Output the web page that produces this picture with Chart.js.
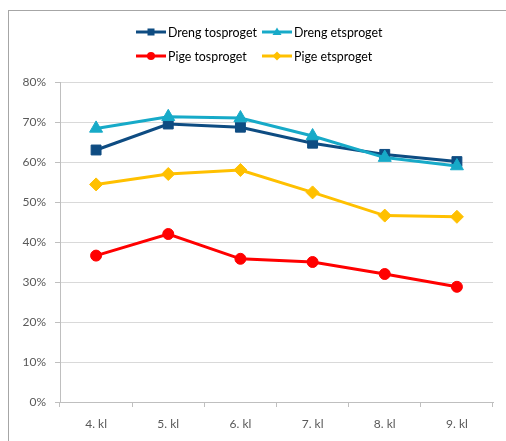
<!doctype html>
<html lang="da">
<head>
<meta charset="UTF-8" />
<title>Dreng og pige, tosproget og etsproget</title>
<style>
html,body{margin:0;padding:0;overflow:hidden;background:#fff}
body{font-family:Lato,"Open Sans",sans-serif}
#frame{position:absolute;left:8px;top:10px;width:540px;height:480px;border:1px solid #a6a6a6;box-sizing:border-box}
#wrap{position:absolute;left:0;top:0;width:506px;height:441px}
#legend{position:absolute;left:136px;top:20px;display:grid;grid-template-columns:126px 126px;grid-auto-rows:24px;font-size:12.4px;color:#000}
.item{display:flex;align-items:center;white-space:nowrap}
.item svg{margin-right:2px;flex:none}
</style>
</head>
<body>
<div id="frame"></div>
<div id="wrap"><canvas id="chart" width="506" height="441"></canvas></div>
<div id="legend"></div>

<script src="https://cdn.jsdelivr.net/npm/chart.js"></script>
<script>
// grade levels on the x axis
const klasser = ['4. kl', '5. kl', '6. kl', '7. kl', '8. kl', '9. kl']
// percent values
const drengTosproget = [63.0, 69.5, 68.7, 64.7, 61.9, 60.1]
const drengEtsproget = [68.4, 71.3, 71.0, 66.5, 61.1, 59.0]
const pigeTosproget = [36.6, 42.0, 35.8, 35.0, 32.0, 28.8]
const pigeEtsproget = [54.4, 57.0, 58.0, 52.4, 46.6, 46.3]
const yMin = 0, yMax = 80, yStep = 10

const font = {family: 'Lato, "Open Sans", sans-serif', size: 12}

function serie(label, data, color, style, radius, order) {
  return {
    label: label, data: data, order: order,
    borderColor: color, backgroundColor: color,
    borderWidth: 3, tension: 0,
    pointStyle: style, pointRadius: radius, pointHoverRadius: radius,
    pointBorderWidth: 1, pointBackgroundColor: color, pointBorderColor: color
  }
}

const datasets = [
  serie('Dreng tosproget', drengTosproget, '#0e4c82', 'rect', 7, 1),
  serie('Dreng etsproget', drengEtsproget, '#17aac8', 'triangle', 7.5, 0),
  serie('Pige tosproget', pigeTosproget, '#ff0000', 'circle', 5.5, 2),
  serie('Pige etsproget', pigeEtsproget, '#ffc000', 'rectRot', 6.5, 3)
]

const chart = new Chart(document.getElementById('chart'), {
  type: 'line',
  data: {labels: klasser, datasets: datasets},
  options: {
    responsive: false,
    animation: false,
    layout: {padding: {left: 8, right: 13, top: 82, bottom: 0}},
    plugins: {legend: {display: false}, tooltip: {enabled: false}},
    scales: {
      x: {
        offset: true,
        grid: {offset: true, drawOnChartArea: false, drawTicks: true, tickLength: 5, color: '#bfbfbf'},
        border: {color: '#bfbfbf'},
        ticks: {color: '#595959', font: font, padding: 10},
        afterFit: s => { s.height = 39 }
      },
      y: {
        min: yMin, max: yMax,
        grid: {color: '#d9d9d9', tickLength: 5, tickColor: '#bfbfbf'},
        border: {color: '#bfbfbf'},
        ticks: {stepSize: yStep, padding: 9, color: '#595959', font: font, callback: v => v + '%'},
        afterFit: s => { s.width = 52 }
      }
    }
  }
})

// legend as two columns, Excel style: short line with the marker on it
function swatch(style, color) {
  let m = ''
  if (style == 'rect') m = `<rect x="11.5" y="3.5" width="7" height="7" fill="${color}"/>`
  if (style == 'triangle') m = `<polygon points="15,2.5 19.5,10 10.5,10" fill="${color}"/>`
  if (style == 'circle') m = `<circle cx="15" cy="7" r="4" fill="${color}"/>`
  if (style == 'rectRot') m = `<polygon points="15,2.5 19.5,7 15,11.5 10.5,7" fill="${color}"/>`
  return `<svg width="30" height="14"><line x1="0" y1="7" x2="30" y2="7" stroke="${color}" stroke-width="3"/>${m}</svg>`
}
const legend = document.getElementById('legend')
datasets.forEach(d => {
  const item = document.createElement('div')
  item.className = 'item'
  item.innerHTML = swatch(d.pointStyle, d.borderColor) + '<span>' + d.label + '</span>'
  legend.appendChild(item)
})
</script>
</body>
</html>
